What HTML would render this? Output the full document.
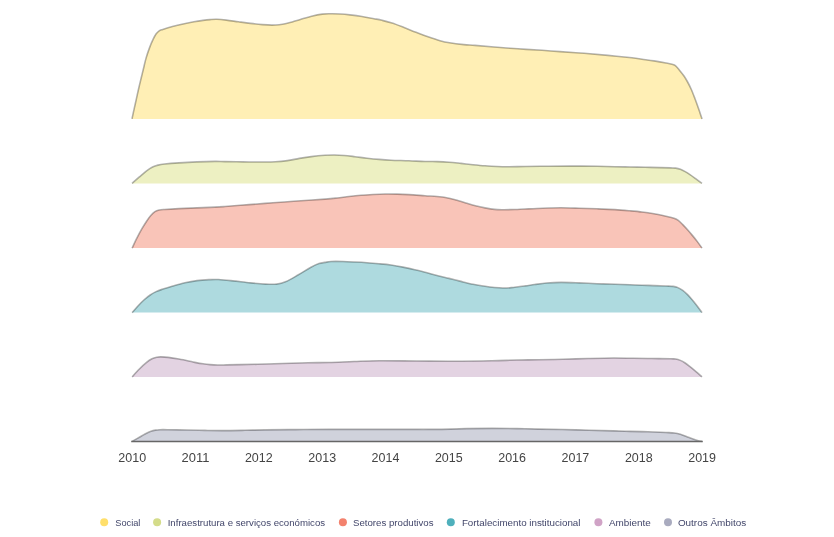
<!DOCTYPE html>
<html><head><meta charset="utf-8"><title>Chart</title>
<style>
html,body{margin:0;padding:0;background:#fff;}
svg{display:block;}
text{font-family:"Liberation Sans",sans-serif;}
.ax{font-size:13.6px;fill:#444;}
.lg{font-size:9.6px;fill:#42466a;}
</style></head><body>
<svg width="834" height="537" viewBox="0 0 834 537">
<path d="M132.00,118.90C132.33,117.35,133.27,112.95,134.00,109.60C134.73,106.25,135.60,102.40,136.40,98.80C137.20,95.20,138.00,91.47,138.80,88.00C139.60,84.53,140.43,81.17,141.20,78.00C141.97,74.83,142.60,72.27,143.40,69.00C144.20,65.73,144.97,61.97,146.00,58.40C147.03,54.83,148.40,50.80,149.60,47.60C150.80,44.40,152.10,41.50,153.20,39.20C154.30,36.90,155.20,35.20,156.20,33.80C157.20,32.40,158.10,31.53,159.20,30.80C160.30,30.07,160.60,30.10,162.80,29.40C165.00,28.70,169.20,27.47,172.40,26.60C175.60,25.73,178.40,25.00,182.00,24.20C185.60,23.40,190.50,22.43,194.00,21.80C197.50,21.17,200.33,20.77,203.00,20.40C205.67,20.03,207.70,19.78,210.00,19.60C212.30,19.42,214.07,19.22,216.80,19.30C219.53,19.38,222.80,19.68,226.40,20.10C230.00,20.52,234.40,21.25,238.40,21.80C242.40,22.35,246.40,22.93,250.40,23.40C254.40,23.87,258.82,24.32,262.40,24.60C265.98,24.88,269.12,25.08,271.90,25.10C274.68,25.12,276.70,24.97,279.10,24.70C281.50,24.43,283.90,24.02,286.30,23.50C288.70,22.98,291.15,22.27,293.50,21.60C295.85,20.93,297.38,20.40,300.40,19.50C303.42,18.60,307.93,17.10,311.60,16.20C315.27,15.30,319.20,14.50,322.40,14.10C325.60,13.70,327.80,13.82,330.80,13.80C333.80,13.78,337.20,13.82,340.40,14.00C343.60,14.18,346.42,14.48,350.00,14.90C353.58,15.32,357.92,15.87,361.90,16.50C365.88,17.13,370.55,18.07,373.90,18.70C377.25,19.33,378.98,19.58,382.00,20.30C385.02,21.02,388.33,21.80,392.00,23.00C395.67,24.20,400.00,25.95,404.00,27.50C408.00,29.05,412.00,30.75,416.00,32.30C420.00,33.85,424.00,35.40,428.00,36.80C432.00,38.20,436.42,39.70,440.00,40.70C443.58,41.70,445.52,42.15,449.50,42.80C453.48,43.45,459.65,44.17,463.90,44.60C468.15,45.03,469.98,45.00,475.00,45.40C480.02,45.80,486.83,46.43,494.00,47.00C501.17,47.57,510.00,48.25,518.00,48.80C526.00,49.35,535.00,49.83,542.00,50.30C549.00,50.77,553.00,51.10,560.00,51.60C567.00,52.10,576.00,52.67,584.00,53.30C592.00,53.93,600.00,54.65,608.00,55.40C616.00,56.15,626.33,57.17,632.00,57.80C637.67,58.43,638.33,58.68,642.00,59.20C645.67,59.72,650.00,60.27,654.00,60.90C658.00,61.53,663.00,62.43,666.00,63.00C669.00,63.57,670.40,63.83,672.00,64.30C673.60,64.77,674.38,64.85,675.60,65.80C676.82,66.75,677.90,68.30,679.30,70.00C680.70,71.70,682.62,74.00,684.00,76.00C685.38,78.00,686.40,79.80,687.60,82.00C688.80,84.20,690.00,86.50,691.20,89.20C692.40,91.90,693.58,95.00,694.80,98.20C696.02,101.40,697.30,104.95,698.50,108.40C699.70,111.85,701.42,117.15,702.00,118.90Z" fill="#FFEFB5"/>
<path d="M132.00,118.90C132.33,117.35,133.27,112.95,134.00,109.60C134.73,106.25,135.60,102.40,136.40,98.80C137.20,95.20,138.00,91.47,138.80,88.00C139.60,84.53,140.43,81.17,141.20,78.00C141.97,74.83,142.60,72.27,143.40,69.00C144.20,65.73,144.97,61.97,146.00,58.40C147.03,54.83,148.40,50.80,149.60,47.60C150.80,44.40,152.10,41.50,153.20,39.20C154.30,36.90,155.20,35.20,156.20,33.80C157.20,32.40,158.10,31.53,159.20,30.80C160.30,30.07,160.60,30.10,162.80,29.40C165.00,28.70,169.20,27.47,172.40,26.60C175.60,25.73,178.40,25.00,182.00,24.20C185.60,23.40,190.50,22.43,194.00,21.80C197.50,21.17,200.33,20.77,203.00,20.40C205.67,20.03,207.70,19.78,210.00,19.60C212.30,19.42,214.07,19.22,216.80,19.30C219.53,19.38,222.80,19.68,226.40,20.10C230.00,20.52,234.40,21.25,238.40,21.80C242.40,22.35,246.40,22.93,250.40,23.40C254.40,23.87,258.82,24.32,262.40,24.60C265.98,24.88,269.12,25.08,271.90,25.10C274.68,25.12,276.70,24.97,279.10,24.70C281.50,24.43,283.90,24.02,286.30,23.50C288.70,22.98,291.15,22.27,293.50,21.60C295.85,20.93,297.38,20.40,300.40,19.50C303.42,18.60,307.93,17.10,311.60,16.20C315.27,15.30,319.20,14.50,322.40,14.10C325.60,13.70,327.80,13.82,330.80,13.80C333.80,13.78,337.20,13.82,340.40,14.00C343.60,14.18,346.42,14.48,350.00,14.90C353.58,15.32,357.92,15.87,361.90,16.50C365.88,17.13,370.55,18.07,373.90,18.70C377.25,19.33,378.98,19.58,382.00,20.30C385.02,21.02,388.33,21.80,392.00,23.00C395.67,24.20,400.00,25.95,404.00,27.50C408.00,29.05,412.00,30.75,416.00,32.30C420.00,33.85,424.00,35.40,428.00,36.80C432.00,38.20,436.42,39.70,440.00,40.70C443.58,41.70,445.52,42.15,449.50,42.80C453.48,43.45,459.65,44.17,463.90,44.60C468.15,45.03,469.98,45.00,475.00,45.40C480.02,45.80,486.83,46.43,494.00,47.00C501.17,47.57,510.00,48.25,518.00,48.80C526.00,49.35,535.00,49.83,542.00,50.30C549.00,50.77,553.00,51.10,560.00,51.60C567.00,52.10,576.00,52.67,584.00,53.30C592.00,53.93,600.00,54.65,608.00,55.40C616.00,56.15,626.33,57.17,632.00,57.80C637.67,58.43,638.33,58.68,642.00,59.20C645.67,59.72,650.00,60.27,654.00,60.90C658.00,61.53,663.00,62.43,666.00,63.00C669.00,63.57,670.40,63.83,672.00,64.30C673.60,64.77,674.38,64.85,675.60,65.80C676.82,66.75,677.90,68.30,679.30,70.00C680.70,71.70,682.62,74.00,684.00,76.00C685.38,78.00,686.40,79.80,687.60,82.00C688.80,84.20,690.00,86.50,691.20,89.20C692.40,91.90,693.58,95.00,694.80,98.20C696.02,101.40,697.30,104.95,698.50,108.40C699.70,111.85,701.42,117.15,702.00,118.90" fill="none" stroke="#000" stroke-opacity="0.3" stroke-width="1.6" stroke-linecap="butt"/>
<path d="M132.00,183.40C133.23,182.31,136.96,178.96,139.39,176.88C141.82,174.79,144.38,172.52,146.58,170.88C148.78,169.24,150.68,168.01,152.58,167.05C154.48,166.09,155.98,165.63,157.97,165.13C159.97,164.63,161.07,164.43,164.57,164.05C168.07,163.67,173.56,163.21,178.96,162.85C184.35,162.49,190.95,162.13,196.94,161.89C202.94,161.65,210.25,161.46,214.93,161.41C219.60,161.36,220.32,161.52,225.00,161.60C229.68,161.68,237.00,161.83,243.00,161.90C249.00,161.97,255.60,162.02,261.00,162.00C266.40,161.98,271.00,162.03,275.40,161.80C279.80,161.57,283.40,161.17,287.40,160.60C291.40,160.03,295.42,159.07,299.40,158.40C303.38,157.73,307.03,157.12,311.30,156.60C315.57,156.08,321.12,155.57,325.00,155.30C328.88,155.03,331.40,154.97,334.60,155.00C337.80,155.03,340.80,155.22,344.20,155.50C347.60,155.78,351.20,156.25,355.00,156.70C358.80,157.15,363.00,157.75,367.00,158.20C371.00,158.65,375.00,159.07,379.00,159.40C383.00,159.73,386.00,159.97,391.00,160.20C396.00,160.43,403.33,160.58,409.00,160.80C414.67,161.02,420.33,161.37,425.00,161.50C429.67,161.63,433.00,161.48,437.00,161.60C441.00,161.72,445.00,161.90,449.00,162.20C453.00,162.50,457.00,162.98,461.00,163.40C465.00,163.82,469.00,164.30,473.00,164.70C477.00,165.10,481.00,165.50,485.00,165.80C489.00,166.10,493.00,166.35,497.00,166.50C501.00,166.65,504.33,166.71,509.00,166.70C513.67,166.69,518.33,166.53,525.00,166.45C531.67,166.37,541.00,166.26,549.00,166.20C557.00,166.14,565.00,166.08,573.00,166.10C581.00,166.12,590.00,166.20,597.00,166.30C604.00,166.40,609.50,166.58,615.00,166.70C620.50,166.82,625.00,166.90,630.00,167.00C635.00,167.10,640.00,167.20,645.00,167.30C650.00,167.40,655.71,167.50,660.00,167.60C664.29,167.70,668.17,167.81,670.77,167.91C673.36,168.00,673.96,167.91,675.56,168.15C677.16,168.39,678.76,168.76,680.36,169.34C681.96,169.92,683.56,170.74,685.16,171.62C686.75,172.50,688.15,173.40,689.95,174.62C691.75,175.84,693.94,177.47,695.95,178.94C697.96,180.40,700.99,182.66,702.00,183.40Z" fill="#EDF0C2"/>
<path d="M132.00,183.40C133.23,182.31,136.96,178.96,139.39,176.88C141.82,174.79,144.38,172.52,146.58,170.88C148.78,169.24,150.68,168.01,152.58,167.05C154.48,166.09,155.98,165.63,157.97,165.13C159.97,164.63,161.07,164.43,164.57,164.05C168.07,163.67,173.56,163.21,178.96,162.85C184.35,162.49,190.95,162.13,196.94,161.89C202.94,161.65,210.25,161.46,214.93,161.41C219.60,161.36,220.32,161.52,225.00,161.60C229.68,161.68,237.00,161.83,243.00,161.90C249.00,161.97,255.60,162.02,261.00,162.00C266.40,161.98,271.00,162.03,275.40,161.80C279.80,161.57,283.40,161.17,287.40,160.60C291.40,160.03,295.42,159.07,299.40,158.40C303.38,157.73,307.03,157.12,311.30,156.60C315.57,156.08,321.12,155.57,325.00,155.30C328.88,155.03,331.40,154.97,334.60,155.00C337.80,155.03,340.80,155.22,344.20,155.50C347.60,155.78,351.20,156.25,355.00,156.70C358.80,157.15,363.00,157.75,367.00,158.20C371.00,158.65,375.00,159.07,379.00,159.40C383.00,159.73,386.00,159.97,391.00,160.20C396.00,160.43,403.33,160.58,409.00,160.80C414.67,161.02,420.33,161.37,425.00,161.50C429.67,161.63,433.00,161.48,437.00,161.60C441.00,161.72,445.00,161.90,449.00,162.20C453.00,162.50,457.00,162.98,461.00,163.40C465.00,163.82,469.00,164.30,473.00,164.70C477.00,165.10,481.00,165.50,485.00,165.80C489.00,166.10,493.00,166.35,497.00,166.50C501.00,166.65,504.33,166.71,509.00,166.70C513.67,166.69,518.33,166.53,525.00,166.45C531.67,166.37,541.00,166.26,549.00,166.20C557.00,166.14,565.00,166.08,573.00,166.10C581.00,166.12,590.00,166.20,597.00,166.30C604.00,166.40,609.50,166.58,615.00,166.70C620.50,166.82,625.00,166.90,630.00,167.00C635.00,167.10,640.00,167.20,645.00,167.30C650.00,167.40,655.71,167.50,660.00,167.60C664.29,167.70,668.17,167.81,670.77,167.91C673.36,168.00,673.96,167.91,675.56,168.15C677.16,168.39,678.76,168.76,680.36,169.34C681.96,169.92,683.56,170.74,685.16,171.62C686.75,172.50,688.15,173.40,689.95,174.62C691.75,175.84,693.94,177.47,695.95,178.94C697.96,180.40,700.99,182.66,702.00,183.40" fill="none" stroke="#000" stroke-opacity="0.3" stroke-width="1.6" stroke-linecap="butt"/>
<path d="M132.10,248.10C132.92,246.41,135.38,241.15,136.99,237.97C138.60,234.78,140.19,231.77,141.79,228.97C143.39,226.18,145.08,223.42,146.58,221.18C148.08,218.94,149.38,217.14,150.78,215.54C152.18,213.95,153.58,212.51,154.98,211.59C156.37,210.67,157.57,210.39,159.17,210.03C160.77,209.67,161.27,209.67,164.57,209.43C167.87,209.19,173.56,208.85,178.96,208.59C184.35,208.33,190.95,208.11,196.94,207.87C202.94,207.63,210.25,207.38,214.93,207.15C219.60,206.92,219.32,206.93,225.00,206.50C230.68,206.07,241.00,205.22,249.00,204.60C257.00,203.98,265.00,203.40,273.00,202.80C281.00,202.20,288.33,201.62,297.00,201.00C305.67,200.38,318.33,199.60,325.00,199.10C331.67,198.60,333.00,198.43,337.00,198.00C341.00,197.57,345.00,196.95,349.00,196.50C353.00,196.05,357.00,195.63,361.00,195.30C365.00,194.97,369.00,194.72,373.00,194.50C377.00,194.28,381.00,194.07,385.00,194.00C389.00,193.93,393.00,194.00,397.00,194.10C401.00,194.20,404.33,194.33,409.00,194.60C413.67,194.87,420.33,195.38,425.00,195.70C429.67,196.02,433.40,196.17,437.00,196.50C440.60,196.83,443.40,197.10,446.60,197.70C449.80,198.30,453.00,199.22,456.20,200.10C459.40,200.98,462.60,202.05,465.80,203.00C469.00,203.95,472.20,204.98,475.40,205.80C478.60,206.62,481.82,207.30,485.00,207.90C488.18,208.50,491.52,209.10,494.50,209.40C497.48,209.70,499.50,209.68,502.90,209.70C506.30,209.72,511.22,209.62,514.90,209.50C518.58,209.38,520.32,209.22,525.00,209.00C529.68,208.78,537.00,208.40,543.00,208.20C549.00,208.00,555.00,207.80,561.00,207.80C567.00,207.80,573.00,208.03,579.00,208.20C585.00,208.37,591.00,208.57,597.00,208.80C603.00,209.03,609.50,209.27,615.00,209.60C620.50,209.93,625.50,210.39,630.00,210.79C634.50,211.19,637.99,211.49,641.99,211.99C645.99,212.49,649.98,213.09,653.98,213.79C657.98,214.49,662.77,215.49,665.97,216.19C669.17,216.89,671.17,217.33,673.17,217.99C675.16,218.65,676.36,219.04,677.96,220.14C679.56,221.24,681.16,222.98,682.76,224.58C684.36,226.18,685.96,227.94,687.55,229.74C689.15,231.53,690.75,233.43,692.35,235.37C693.95,237.31,695.54,239.25,697.15,241.37C698.75,243.49,701.19,246.98,702.00,248.10Z" fill="#F9C4B8"/>
<path d="M132.10,248.10C132.92,246.41,135.38,241.15,136.99,237.97C138.60,234.78,140.19,231.77,141.79,228.97C143.39,226.18,145.08,223.42,146.58,221.18C148.08,218.94,149.38,217.14,150.78,215.54C152.18,213.95,153.58,212.51,154.98,211.59C156.37,210.67,157.57,210.39,159.17,210.03C160.77,209.67,161.27,209.67,164.57,209.43C167.87,209.19,173.56,208.85,178.96,208.59C184.35,208.33,190.95,208.11,196.94,207.87C202.94,207.63,210.25,207.38,214.93,207.15C219.60,206.92,219.32,206.93,225.00,206.50C230.68,206.07,241.00,205.22,249.00,204.60C257.00,203.98,265.00,203.40,273.00,202.80C281.00,202.20,288.33,201.62,297.00,201.00C305.67,200.38,318.33,199.60,325.00,199.10C331.67,198.60,333.00,198.43,337.00,198.00C341.00,197.57,345.00,196.95,349.00,196.50C353.00,196.05,357.00,195.63,361.00,195.30C365.00,194.97,369.00,194.72,373.00,194.50C377.00,194.28,381.00,194.07,385.00,194.00C389.00,193.93,393.00,194.00,397.00,194.10C401.00,194.20,404.33,194.33,409.00,194.60C413.67,194.87,420.33,195.38,425.00,195.70C429.67,196.02,433.40,196.17,437.00,196.50C440.60,196.83,443.40,197.10,446.60,197.70C449.80,198.30,453.00,199.22,456.20,200.10C459.40,200.98,462.60,202.05,465.80,203.00C469.00,203.95,472.20,204.98,475.40,205.80C478.60,206.62,481.82,207.30,485.00,207.90C488.18,208.50,491.52,209.10,494.50,209.40C497.48,209.70,499.50,209.68,502.90,209.70C506.30,209.72,511.22,209.62,514.90,209.50C518.58,209.38,520.32,209.22,525.00,209.00C529.68,208.78,537.00,208.40,543.00,208.20C549.00,208.00,555.00,207.80,561.00,207.80C567.00,207.80,573.00,208.03,579.00,208.20C585.00,208.37,591.00,208.57,597.00,208.80C603.00,209.03,609.50,209.27,615.00,209.60C620.50,209.93,625.50,210.39,630.00,210.79C634.50,211.19,637.99,211.49,641.99,211.99C645.99,212.49,649.98,213.09,653.98,213.79C657.98,214.49,662.77,215.49,665.97,216.19C669.17,216.89,671.17,217.33,673.17,217.99C675.16,218.65,676.36,219.04,677.96,220.14C679.56,221.24,681.16,222.98,682.76,224.58C684.36,226.18,685.96,227.94,687.55,229.74C689.15,231.53,690.75,233.43,692.35,235.37C693.95,237.31,695.54,239.25,697.15,241.37C698.75,243.49,701.19,246.98,702.00,248.10" fill="none" stroke="#000" stroke-opacity="0.3" stroke-width="1.6" stroke-linecap="butt"/>
<path d="M132.10,312.60C133.11,311.46,136.18,307.90,138.19,305.76C140.20,303.63,142.19,301.57,144.18,299.77C146.18,297.97,148.18,296.33,150.18,294.97C152.18,293.61,154.18,292.56,156.18,291.62C158.17,290.68,159.37,290.28,162.17,289.34C164.97,288.40,169.16,287.08,172.96,285.98C176.76,284.88,180.96,283.64,184.95,282.74C188.95,281.84,192.95,281.10,196.94,280.59C200.94,280.07,205.34,279.81,208.93,279.63C212.53,279.45,214.55,279.31,218.53,279.51C222.50,279.71,227.48,280.27,232.78,280.83C238.08,281.38,244.90,282.29,250.33,282.83C255.76,283.38,260.98,283.88,265.36,284.09C269.75,284.29,273.30,284.46,276.64,284.09C279.98,283.71,281.86,283.33,285.41,281.83C288.96,280.33,293.77,277.44,297.94,275.06C302.12,272.68,306.97,269.45,310.48,267.54C313.99,265.63,316.58,264.46,319.00,263.60C321.42,262.74,323.00,262.75,325.00,262.40C327.00,262.05,328.00,261.65,331.00,261.50C334.00,261.35,339.00,261.42,343.00,261.50C347.00,261.58,351.00,261.80,355.00,262.00C359.00,262.20,363.00,262.42,367.00,262.70C371.00,262.98,375.00,263.32,379.00,263.70C383.00,264.08,387.00,264.43,391.00,265.00C395.00,265.57,399.00,266.30,403.00,267.10C407.00,267.90,411.33,268.93,415.00,269.80C418.67,270.67,421.33,271.35,425.00,272.30C428.67,273.25,433.00,274.48,437.00,275.50C441.00,276.52,445.00,277.42,449.00,278.40C453.00,279.38,457.00,280.43,461.00,281.40C465.00,282.37,469.00,283.38,473.00,284.20C477.00,285.02,481.42,285.75,485.00,286.30C488.58,286.85,491.52,287.22,494.50,287.50C497.48,287.78,500.10,287.98,502.90,288.00C505.70,288.02,507.62,287.95,511.30,287.60C514.98,287.25,521.12,286.42,525.00,285.90C528.88,285.38,531.00,284.98,534.60,284.50C538.20,284.02,542.20,283.35,546.60,283.00C551.00,282.65,555.60,282.42,561.00,282.40C566.40,282.38,573.00,282.68,579.00,282.90C585.00,283.12,591.00,283.47,597.00,283.70C603.00,283.93,609.50,284.12,615.00,284.30C620.50,284.48,624.50,284.62,630.00,284.80C635.50,284.98,642.00,285.20,648.00,285.40C654.00,285.60,661.80,285.83,666.00,286.00C670.20,286.17,671.21,286.13,673.20,286.40C675.19,286.67,676.37,286.96,677.96,287.63C679.55,288.29,681.16,289.22,682.76,290.38C684.36,291.54,685.96,292.98,687.55,294.58C689.15,296.18,690.75,298.08,692.35,299.98C693.95,301.87,695.54,303.87,697.15,305.97C698.75,308.08,701.19,311.50,702.00,312.60Z" fill="#AEDADF"/>
<path d="M132.10,312.60C133.11,311.46,136.18,307.90,138.19,305.76C140.20,303.63,142.19,301.57,144.18,299.77C146.18,297.97,148.18,296.33,150.18,294.97C152.18,293.61,154.18,292.56,156.18,291.62C158.17,290.68,159.37,290.28,162.17,289.34C164.97,288.40,169.16,287.08,172.96,285.98C176.76,284.88,180.96,283.64,184.95,282.74C188.95,281.84,192.95,281.10,196.94,280.59C200.94,280.07,205.34,279.81,208.93,279.63C212.53,279.45,214.55,279.31,218.53,279.51C222.50,279.71,227.48,280.27,232.78,280.83C238.08,281.38,244.90,282.29,250.33,282.83C255.76,283.38,260.98,283.88,265.36,284.09C269.75,284.29,273.30,284.46,276.64,284.09C279.98,283.71,281.86,283.33,285.41,281.83C288.96,280.33,293.77,277.44,297.94,275.06C302.12,272.68,306.97,269.45,310.48,267.54C313.99,265.63,316.58,264.46,319.00,263.60C321.42,262.74,323.00,262.75,325.00,262.40C327.00,262.05,328.00,261.65,331.00,261.50C334.00,261.35,339.00,261.42,343.00,261.50C347.00,261.58,351.00,261.80,355.00,262.00C359.00,262.20,363.00,262.42,367.00,262.70C371.00,262.98,375.00,263.32,379.00,263.70C383.00,264.08,387.00,264.43,391.00,265.00C395.00,265.57,399.00,266.30,403.00,267.10C407.00,267.90,411.33,268.93,415.00,269.80C418.67,270.67,421.33,271.35,425.00,272.30C428.67,273.25,433.00,274.48,437.00,275.50C441.00,276.52,445.00,277.42,449.00,278.40C453.00,279.38,457.00,280.43,461.00,281.40C465.00,282.37,469.00,283.38,473.00,284.20C477.00,285.02,481.42,285.75,485.00,286.30C488.58,286.85,491.52,287.22,494.50,287.50C497.48,287.78,500.10,287.98,502.90,288.00C505.70,288.02,507.62,287.95,511.30,287.60C514.98,287.25,521.12,286.42,525.00,285.90C528.88,285.38,531.00,284.98,534.60,284.50C538.20,284.02,542.20,283.35,546.60,283.00C551.00,282.65,555.60,282.42,561.00,282.40C566.40,282.38,573.00,282.68,579.00,282.90C585.00,283.12,591.00,283.47,597.00,283.70C603.00,283.93,609.50,284.12,615.00,284.30C620.50,284.48,624.50,284.62,630.00,284.80C635.50,284.98,642.00,285.20,648.00,285.40C654.00,285.60,661.80,285.83,666.00,286.00C670.20,286.17,671.21,286.13,673.20,286.40C675.19,286.67,676.37,286.96,677.96,287.63C679.55,288.29,681.16,289.22,682.76,290.38C684.36,291.54,685.96,292.98,687.55,294.58C689.15,296.18,690.75,298.08,692.35,299.98C693.95,301.87,695.54,303.87,697.15,305.97C698.75,308.08,701.19,311.50,702.00,312.60" fill="none" stroke="#000" stroke-opacity="0.3" stroke-width="1.6" stroke-linecap="butt"/>
<path d="M132.10,376.90C133.31,375.58,136.97,371.40,139.39,368.98C141.80,366.56,144.48,364.08,146.58,362.39C148.68,360.69,150.28,359.65,151.98,358.79C153.68,357.93,155.28,357.55,156.77,357.23C158.27,356.91,159.07,356.85,160.97,356.87C162.87,356.89,165.17,356.99,168.17,357.35C171.16,357.71,175.36,358.39,178.96,359.03C182.55,359.67,186.91,360.59,189.75,361.19C192.59,361.78,193.79,362.16,196.00,362.60C198.21,363.04,200.67,363.47,203.00,363.80C205.33,364.13,207.58,364.40,210.00,364.60C212.42,364.80,214.83,364.95,217.50,365.00C220.17,365.05,222.25,364.97,226.00,364.90C229.75,364.83,234.69,364.70,240.00,364.60C245.31,364.50,250.69,364.46,257.84,364.29C265.00,364.11,274.55,363.78,282.91,363.53C291.26,363.28,300.29,362.95,307.97,362.78C315.65,362.61,321.32,362.74,329.00,362.53C336.68,362.32,345.71,361.82,354.06,361.53C362.42,361.24,368.68,360.86,379.13,360.78C389.57,360.69,404.19,360.94,416.72,361.03C429.25,361.11,441.78,361.32,454.31,361.28C466.84,361.24,481.46,360.99,491.91,360.78C502.35,360.57,509.29,360.19,516.97,360.03C524.65,359.86,530.32,359.90,538.00,359.77C545.68,359.65,554.71,359.48,563.06,359.27C571.42,359.06,579.77,358.73,588.13,358.52C596.48,358.31,605.71,358.06,613.19,358.02C620.67,357.98,626.53,358.21,633.00,358.30C639.47,358.39,645.70,358.47,652.00,358.55C658.30,358.63,666.87,358.72,670.80,358.80C674.73,358.88,673.97,358.74,675.56,359.00C677.16,359.27,678.76,359.71,680.36,360.38C681.96,361.05,683.56,361.98,685.16,363.02C686.75,364.06,688.15,365.20,689.95,366.62C691.75,368.04,693.94,369.82,695.95,371.53C697.96,373.25,700.99,376.01,702.00,376.90Z" fill="#E3D3E2"/>
<path d="M132.10,376.90C133.31,375.58,136.97,371.40,139.39,368.98C141.80,366.56,144.48,364.08,146.58,362.39C148.68,360.69,150.28,359.65,151.98,358.79C153.68,357.93,155.28,357.55,156.77,357.23C158.27,356.91,159.07,356.85,160.97,356.87C162.87,356.89,165.17,356.99,168.17,357.35C171.16,357.71,175.36,358.39,178.96,359.03C182.55,359.67,186.91,360.59,189.75,361.19C192.59,361.78,193.79,362.16,196.00,362.60C198.21,363.04,200.67,363.47,203.00,363.80C205.33,364.13,207.58,364.40,210.00,364.60C212.42,364.80,214.83,364.95,217.50,365.00C220.17,365.05,222.25,364.97,226.00,364.90C229.75,364.83,234.69,364.70,240.00,364.60C245.31,364.50,250.69,364.46,257.84,364.29C265.00,364.11,274.55,363.78,282.91,363.53C291.26,363.28,300.29,362.95,307.97,362.78C315.65,362.61,321.32,362.74,329.00,362.53C336.68,362.32,345.71,361.82,354.06,361.53C362.42,361.24,368.68,360.86,379.13,360.78C389.57,360.69,404.19,360.94,416.72,361.03C429.25,361.11,441.78,361.32,454.31,361.28C466.84,361.24,481.46,360.99,491.91,360.78C502.35,360.57,509.29,360.19,516.97,360.03C524.65,359.86,530.32,359.90,538.00,359.77C545.68,359.65,554.71,359.48,563.06,359.27C571.42,359.06,579.77,358.73,588.13,358.52C596.48,358.31,605.71,358.06,613.19,358.02C620.67,357.98,626.53,358.21,633.00,358.30C639.47,358.39,645.70,358.47,652.00,358.55C658.30,358.63,666.87,358.72,670.80,358.80C674.73,358.88,673.97,358.74,675.56,359.00C677.16,359.27,678.76,359.71,680.36,360.38C681.96,361.05,683.56,361.98,685.16,363.02C686.75,364.06,688.15,365.20,689.95,366.62C691.75,368.04,693.94,369.82,695.95,371.53C697.96,373.25,700.99,376.01,702.00,376.90" fill="none" stroke="#000" stroke-opacity="0.3" stroke-width="1.6" stroke-linecap="butt"/>
<path d="M132.10,441.40C132.92,440.93,135.35,439.55,137.00,438.60C138.65,437.65,140.42,436.60,142.00,435.70C143.58,434.80,145.00,433.95,146.50,433.20C148.00,432.45,149.50,431.72,151.00,431.20C152.50,430.68,154.00,430.35,155.50,430.10C157.00,429.85,157.92,429.77,160.00,429.70C162.08,429.63,163.50,429.65,168.00,429.70C172.50,429.75,180.83,429.88,187.00,430.00C193.17,430.12,199.00,430.30,205.00,430.40C211.00,430.50,216.33,430.62,223.00,430.60C229.67,430.58,238.00,430.42,245.00,430.30C252.00,430.18,256.60,430.02,265.00,429.90C273.40,429.78,284.73,429.69,295.40,429.60C306.07,429.51,315.05,429.39,329.00,429.35C342.95,429.31,360.33,429.35,379.13,429.35C397.92,429.35,427.16,429.47,441.78,429.35C456.40,429.22,458.49,428.76,466.84,428.60C475.20,428.43,483.55,428.35,491.91,428.35C500.26,428.35,509.29,428.47,516.97,428.60C524.65,428.72,528.23,428.89,538.00,429.10C547.77,429.31,563.06,429.56,575.59,429.85C588.13,430.14,604.12,430.60,613.19,430.85C622.26,431.10,624.20,431.18,630.00,431.34C635.80,431.50,641.99,431.62,647.99,431.82C653.98,432.02,661.57,432.34,665.97,432.54C670.37,432.74,671.97,432.74,674.36,433.02C676.76,433.30,678.36,433.66,680.36,434.22C682.36,434.78,684.36,435.62,686.35,436.38C688.35,437.14,690.35,438.04,692.35,438.78C694.35,439.52,696.74,440.38,698.35,440.82C699.95,441.25,701.39,441.30,702.00,441.40Z" fill="#D0D2DC"/>
<path d="M132.10,441.40C132.92,440.93,135.35,439.55,137.00,438.60C138.65,437.65,140.42,436.60,142.00,435.70C143.58,434.80,145.00,433.95,146.50,433.20C148.00,432.45,149.50,431.72,151.00,431.20C152.50,430.68,154.00,430.35,155.50,430.10C157.00,429.85,157.92,429.77,160.00,429.70C162.08,429.63,163.50,429.65,168.00,429.70C172.50,429.75,180.83,429.88,187.00,430.00C193.17,430.12,199.00,430.30,205.00,430.40C211.00,430.50,216.33,430.62,223.00,430.60C229.67,430.58,238.00,430.42,245.00,430.30C252.00,430.18,256.60,430.02,265.00,429.90C273.40,429.78,284.73,429.69,295.40,429.60C306.07,429.51,315.05,429.39,329.00,429.35C342.95,429.31,360.33,429.35,379.13,429.35C397.92,429.35,427.16,429.47,441.78,429.35C456.40,429.22,458.49,428.76,466.84,428.60C475.20,428.43,483.55,428.35,491.91,428.35C500.26,428.35,509.29,428.47,516.97,428.60C524.65,428.72,528.23,428.89,538.00,429.10C547.77,429.31,563.06,429.56,575.59,429.85C588.13,430.14,604.12,430.60,613.19,430.85C622.26,431.10,624.20,431.18,630.00,431.34C635.80,431.50,641.99,431.62,647.99,431.82C653.98,432.02,661.57,432.34,665.97,432.54C670.37,432.74,671.97,432.74,674.36,433.02C676.76,433.30,678.36,433.66,680.36,434.22C682.36,434.78,684.36,435.62,686.35,436.38C688.35,437.14,690.35,438.04,692.35,438.78C694.35,439.52,696.74,440.38,698.35,440.82C699.95,441.25,701.39,441.30,702.00,441.40" fill="none" stroke="#000" stroke-opacity="0.3" stroke-width="1.6" stroke-linecap="butt"/>
<line x1="131.2" x2="702.8" y1="441.4" y2="441.4" stroke="#666" stroke-width="1.5"/>
<text x="118.3" y="462.3" class="ax" textLength="27.8" lengthAdjust="spacingAndGlyphs">2010</text>
<text x="181.6" y="462.3" class="ax" textLength="27.8" lengthAdjust="spacingAndGlyphs">2011</text>
<text x="244.9" y="462.3" class="ax" textLength="27.8" lengthAdjust="spacingAndGlyphs">2012</text>
<text x="308.3" y="462.3" class="ax" textLength="27.8" lengthAdjust="spacingAndGlyphs">2013</text>
<text x="371.6" y="462.3" class="ax" textLength="27.8" lengthAdjust="spacingAndGlyphs">2014</text>
<text x="434.9" y="462.3" class="ax" textLength="27.8" lengthAdjust="spacingAndGlyphs">2015</text>
<text x="498.2" y="462.3" class="ax" textLength="27.8" lengthAdjust="spacingAndGlyphs">2016</text>
<text x="561.5" y="462.3" class="ax" textLength="27.8" lengthAdjust="spacingAndGlyphs">2017</text>
<text x="624.9" y="462.3" class="ax" textLength="27.8" lengthAdjust="spacingAndGlyphs">2018</text>
<text x="688.2" y="462.3" class="ax" textLength="27.8" lengthAdjust="spacingAndGlyphs">2019</text>
<circle cx="104.2" cy="522.2" r="4" fill="#FFDF6B"/>
<text x="115.3" y="526.4" class="lg" textLength="25.1" lengthAdjust="spacingAndGlyphs">Social</text>
<circle cx="157.1" cy="522.2" r="4" fill="#D4DC8A"/>
<text x="167.7" y="526.4" class="lg" textLength="157.4" lengthAdjust="spacingAndGlyphs">Infraestrutura e serviços económicos</text>
<circle cx="342.9" cy="522.2" r="4" fill="#F3826E"/>
<text x="353.0" y="526.4" class="lg" textLength="80.5" lengthAdjust="spacingAndGlyphs">Setores produtivos</text>
<circle cx="450.8" cy="522.2" r="4" fill="#4FB0BC"/>
<text x="461.9" y="526.4" class="lg" textLength="118.6" lengthAdjust="spacingAndGlyphs">Fortalecimento institucional</text>
<circle cx="598.4" cy="522.2" r="4" fill="#D0A3C6"/>
<text x="608.9" y="526.4" class="lg" textLength="41.8" lengthAdjust="spacingAndGlyphs">Ambiente</text>
<circle cx="668.0" cy="522.2" r="4" fill="#A9ABBF"/>
<text x="677.9" y="526.4" class="lg" textLength="68.3" lengthAdjust="spacingAndGlyphs">Outros Âmbitos</text>
</svg>
</body></html>
